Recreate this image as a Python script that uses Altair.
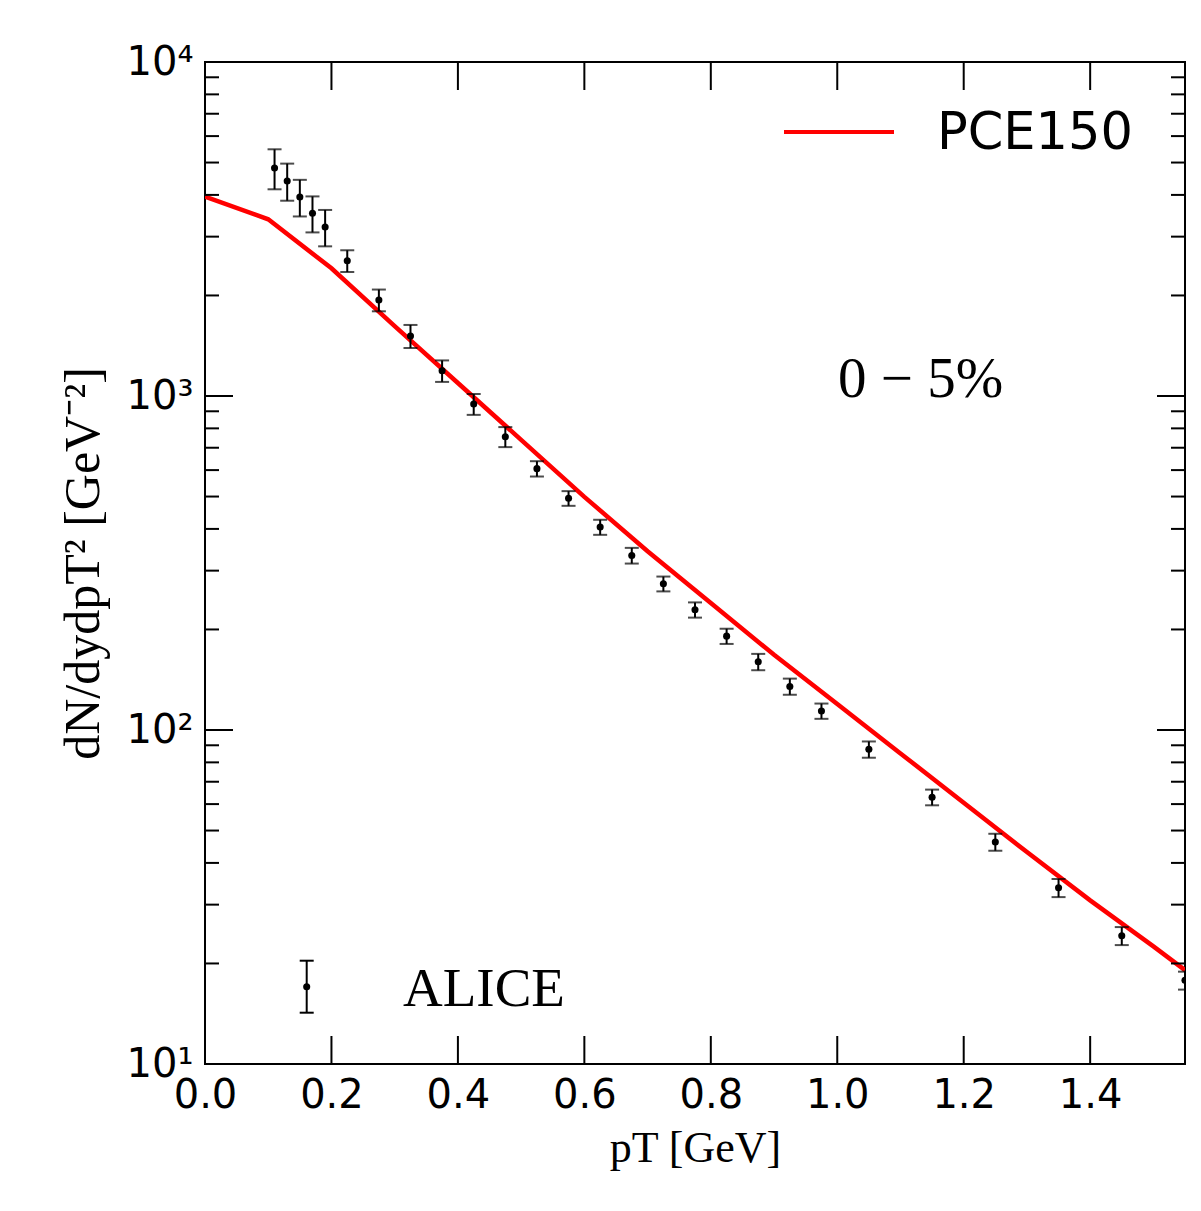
import altair as alt
import pandas as pd

# ALICE data points
pt_data = [0.11, 0.13, 0.15, 0.17, 0.19, 0.225, 0.275, 0.325, 0.375, 0.425, 0.475,
           0.525, 0.575, 0.625, 0.675, 0.725, 0.775, 0.825, 0.875, 0.925, 0.975,
           1.05, 1.15, 1.25, 1.35, 1.45, 1.55]
yield_data = [4818, 4403, 3943, 3524, 3206, 2541, 1938, 1512, 1190, 946, 755,
              606, 494, 405, 333, 274, 229, 191, 160, 135, 114,
              87.5, 62.9, 46.2, 33.7, 24.2, 17.8]
err_data = [660, 560, 495, 435, 400, 190, 145, 120, 88, 68, 52,
            32, 25, 21, 18, 14, 12, 10, 9, 7.5, 6,
            4.9, 3.4, 2.7, 2.1, 1.5, 1.1]

# PCE150 model curve
pt_model = [0.0, 0.1, 0.2, 0.3, 0.4, 0.5, 0.6, 0.7, 0.8, 0.9, 1.0, 1.1, 1.2, 1.3, 1.4, 1.5, 1.55]
yield_model = [3951, 3381, 2412, 1619, 1094, 739, 499, 343, 240, 168, 119.6, 85.1,
               60.6, 43.1, 30.9, 22.5, 19.1]

x_ticks = [0.0, 0.2, 0.4, 0.6, 0.8, 1.0, 1.2, 1.4]
y_major = [10, 100, 1000, 10000]
y_minor = [k * 10 ** d for d in (1, 2, 3) for k in range(2, 10)]

W, H = 980, 1002
MAJ, MIN = 28, 14

data_df = pd.DataFrame({"pT": pt_data, "val": yield_data, "err": err_data})
data_df["lo"] = data_df["val"] - data_df["err"]
data_df["hi"] = data_df["val"] + data_df["err"]
model_df = pd.DataFrame({"pT": pt_model, "val": yield_model, "series": "PCE150"})

x_scale = alt.Scale(domain=[0, 1.55], nice=False, zero=False)
y_scale = alt.Scale(type="log", domain=[10, 10000], nice=False)

x_axis = alt.Axis(values=x_ticks, format=".1f", ticks=False, domain=False, grid=False,
                  labelFont="DejaVu Sans", labelFontSize=40, labelColor="black",
                  labelPadding=11, labelFlush=False,
                  title="pT [GeV]", titleFont="Liberation Serif", titleFontSize=44,
                  titleFontWeight="normal", titleColor="black", titlePadding=11)
y_axis = alt.Axis(values=y_major, ticks=False, domain=False, grid=False,
                  labelExpr="'10' + ['⁰','¹','²','³','⁴'][round(log(datum.value)/LN10)]",
                  labelFont="DejaVu Sans", labelFontSize=40, labelColor="black",
                  labelPadding=12, labelFlush=False,
                  title="dN/dydpT² [GeV⁻²]", titleFont="Liberation Serif", titleFontSize=50,
                  titleFontWeight="normal", titleColor="black", titlePadding=18)


def X(field):
    return alt.X(field, type="quantitative", scale=x_scale, axis=x_axis)


def Y(field):
    return alt.Y(field, type="quantitative", scale=y_scale, axis=y_axis)


line = alt.Chart(model_df).mark_line(color="#ff0000", strokeWidth=4.5, clip=True).encode(
    x=X("pT"), y=Y("val"))

bars = alt.Chart(data_df).mark_rule(color="black", strokeWidth=2, clip=True).encode(
    x=X("pT"), y=Y("lo"), y2="hi")
cap_lo = alt.Chart(data_df).mark_tick(color="black", orient="horizontal", size=14,
                                      thickness=2, clip=True).encode(x=X("pT"), y=Y("lo"))
cap_hi = alt.Chart(data_df).mark_tick(color="black", orient="horizontal", size=14,
                                      thickness=2, clip=True).encode(x=X("pT"), y=Y("hi"))
pts = alt.Chart(data_df).mark_circle(color="black", size=50, opacity=1, clip=True).encode(
    x=X("pT"), y=Y("val"))

xt = pd.DataFrame({"v": x_ticks})
ymaj = pd.DataFrame({"v": y_major})
ymin = pd.DataFrame({"v": y_minor})

tick_style = dict(color="black", strokeWidth=2)
xt_bot = alt.Chart(xt).mark_rule(**tick_style).encode(x=X("v"), y=alt.value(H), y2=alt.value(H - MAJ))
xt_top = alt.Chart(xt).mark_rule(**tick_style).encode(x=X("v"), y=alt.value(0), y2=alt.value(MAJ))
ymaj_l = alt.Chart(ymaj).mark_rule(**tick_style).encode(y=Y("v"), x=alt.value(0), x2=alt.value(MAJ))
ymaj_r = alt.Chart(ymaj).mark_rule(**tick_style).encode(y=Y("v"), x=alt.value(W - MAJ), x2=alt.value(W))
ymin_l = alt.Chart(ymin).mark_rule(**tick_style).encode(y=Y("v"), x=alt.value(0), x2=alt.value(MIN))
ymin_r = alt.Chart(ymin).mark_rule(**tick_style).encode(y=Y("v"), x=alt.value(W - MIN), x2=alt.value(W))

one = pd.DataFrame({"a": [0]})

# legend: PCE150
leg_line = alt.Chart(one).mark_rule(color="#ff0000", strokeWidth=4).encode(
    x=alt.value(579), x2=alt.value(689), y=alt.value(70))
leg_text = alt.Chart(one).mark_text(text="PCE150", font="DejaVu Sans", fontSize=51,
                                    align="left", baseline="middle", color="black").encode(
    x=alt.value(732), y=alt.value(72))

# legend: ALICE
ax, ay = 101.7, 924.7
al_bar = alt.Chart(one).mark_rule(color="black", strokeWidth=2).encode(
    x=alt.value(ax), y=alt.value(ay - 26), y2=alt.value(ay + 26))
al_c1 = alt.Chart(one).mark_rule(color="black", strokeWidth=2).encode(
    x=alt.value(ax - 7), x2=alt.value(ax + 7), y=alt.value(ay - 26))
al_c2 = alt.Chart(one).mark_rule(color="black", strokeWidth=2).encode(
    x=alt.value(ax - 7), x2=alt.value(ax + 7), y=alt.value(ay + 26))
al_pt = alt.Chart(one).mark_circle(color="black", size=50, opacity=1).encode(
    x=alt.value(ax), y=alt.value(ay))
al_text = alt.Chart(one).mark_text(text="ALICE", font="Liberation Serif", fontSize=55,
                                   align="left", baseline="middle", color="black").encode(
    x=alt.value(198), y=alt.value(927))

cent_text = alt.Chart(one).mark_text(text="0 − 5%", font="Liberation Serif", fontSize=57,
                                     align="left", baseline="middle", color="black").encode(
    x=alt.value(633), y=alt.value(318))

chart = alt.layer(
    line, bars, cap_lo, cap_hi, pts,
    xt_bot, xt_top, ymaj_l, ymaj_r, ymin_l, ymin_r,
    leg_line, leg_text, al_bar, al_c1, al_c2, al_pt, al_text, cent_text,
).properties(
    width=W, height=H,
    autosize=alt.AutoSizeParams(type="none"),
    padding={"left": 197, "top": 54, "right": 8, "bottom": 140},
).configure_view(stroke="black", strokeWidth=2)

chart.save("out.html", embed_options={"renderer": "svg", "actions": False})
